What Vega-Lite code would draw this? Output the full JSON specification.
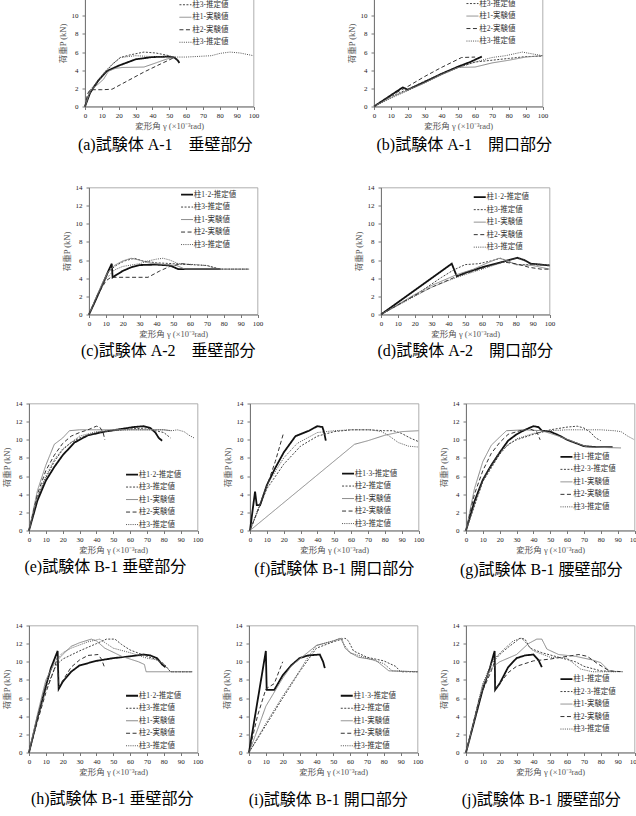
{
  "$schema": "https://vega.github.io/schema/vega-lite/v6.json",
  "padding": {"left": 0, "top": -25.5, "right": -4, "bottom": 0},
  "background": "white",
  "spacing": 0,
  "resolve": {
    "scale": {"color": "independent", "strokeDash": "independent"},
    "legend": {"color": "independent", "strokeDash": "independent"}
  },
  "config": {
    "view": {"stroke": "#9a9a9a", "strokeWidth": 0.8},
    "axis": {
      "grid": false,
      "labelFont": "Liberation Serif",
      "labelFontSize": 7,
      "labelColor": "#222",
      "labelFlush": false,
      "labelOverlap": false,
      "titleFont": "Liberation Serif, Noto Sans CJK JP",
      "titleFontSize": 8.5,
      "titleFontWeight": "normal",
      "titleColor": "#555",
      "tickColor": "#777",
      "domainColor": "#777",
      "tickSize": 3
    },
    "axisX": {"tickCount": 10, "labelPadding": 2, "titlePadding": 3},
    "axisY": {"tickCount": 7, "labelPadding": 4, "titlePadding": 4},
    "legend": {
      "orient": "none",
      "symbolType": "stroke",
      "symbolSize": 144,
      "symbolStrokeWidth": 1,
      "labelFont": "Liberation Serif, Noto Sans CJK JP",
      "labelFontSize": 7.5,
      "labelColor": "#333",
      "rowPadding": 3.5,
      "padding": 0,
      "labelOffset": 3
    },
    "title": {
      "orient": "bottom",
      "anchor": "middle",
      "font": "Liberation Serif, Noto Sans CJK JP",
      "fontSize": 16,
      "fontWeight": "normal",
      "color": "#000"
    }
  },
  "datasets": {
    "a": [
      {"s":1,"x":0,"y":0},{"s":1,"x":3,"y":1.5},{"s":1,"x":8,"y":2.9},{"s":1,"x":13,"y":3.9},{"s":1,"x":20,"y":4.5},{"s":1,"x":30,"y":5.2},{"s":1,"x":40,"y":5.45},{"s":1,"x":50,"y":5.5},{"s":1,"x":53,"y":5.4},{"s":1,"x":55,"y":5.1},{"s":1,"x":56,"y":4.8},
      {"s":2,"x":0,"y":0},{"s":2,"x":2,"y":1.2},{"s":2,"x":6,"y":2.3},{"s":2,"x":11,"y":3.5},{"s":2,"x":16,"y":4.6},{"s":2,"x":21,"y":5.4},{"s":2,"x":27,"y":5.7},{"s":2,"x":35,"y":6.0},{"s":2,"x":42,"y":5.9},{"s":2,"x":50,"y":5.6},{"s":2,"x":54,"y":5.3},{"s":2,"x":56,"y":5.0},
      {"s":3,"x":0,"y":0},{"s":3,"x":3,"y":1.7},{"s":3,"x":8,"y":2.5},{"s":3,"x":11,"y":3.0},{"s":3,"x":14,"y":3.9},{"s":3,"x":18,"y":4.2},{"s":3,"x":22,"y":4.3},{"s":3,"x":35,"y":4.35},{"s":3,"x":42,"y":4.8},{"s":3,"x":48,"y":5.2},{"s":3,"x":52,"y":5.4},
      {"s":4,"x":0,"y":0},{"s":4,"x":1.5,"y":1.4},{"s":4,"x":3,"y":1.85},{"s":4,"x":10,"y":1.85},{"s":4,"x":16,"y":1.9},{"s":4,"x":25,"y":2.8},{"s":4,"x":35,"y":3.8},{"s":4,"x":45,"y":4.7},{"s":4,"x":53,"y":5.4},
      {"s":5,"x":0,"y":0},{"s":5,"x":3,"y":1.8},{"s":5,"x":7,"y":2.7},{"s":5,"x":12,"y":3.9},{"s":5,"x":17,"y":4.8},{"s":5,"x":21,"y":5.4},{"s":5,"x":30,"y":5.6},{"s":5,"x":40,"y":5.5},{"s":5,"x":50,"y":5.45},{"s":5,"x":60,"y":5.45},{"s":5,"x":70,"y":5.55},{"s":5,"x":75,"y":5.6},{"s":5,"x":80,"y":5.85},{"s":5,"x":86,"y":6.0},{"s":5,"x":92,"y":5.9},{"s":5,"x":100,"y":5.6}
    ],
    "b": [
      {"s":1,"x":0,"y":0},{"s":1,"x":17,"y":2.1},{"s":1,"x":20,"y":1.85},{"s":1,"x":30,"y":2.7},{"s":1,"x":40,"y":3.6},{"s":1,"x":50,"y":4.4},{"s":1,"x":57,"y":4.9},{"s":1,"x":64,"y":5.5},
      {"s":2,"x":0,"y":0},{"s":2,"x":10,"y":1.1},{"s":2,"x":20,"y":1.9},{"s":2,"x":30,"y":2.8},{"s":2,"x":40,"y":3.6},{"s":2,"x":50,"y":4.3},{"s":2,"x":60,"y":4.9},{"s":2,"x":70,"y":5.1},{"s":2,"x":80,"y":5.3},{"s":2,"x":90,"y":5.5},{"s":2,"x":100,"y":5.55},
      {"s":3,"x":0,"y":0},{"s":3,"x":10,"y":1.0},{"s":3,"x":20,"y":1.8},{"s":3,"x":30,"y":2.6},{"s":3,"x":40,"y":3.5},{"s":3,"x":50,"y":4.3},{"s":3,"x":60,"y":4.35},{"s":3,"x":70,"y":4.8},{"s":3,"x":80,"y":5.1},{"s":3,"x":90,"y":5.45},{"s":3,"x":100,"y":5.6},
      {"s":4,"x":0,"y":0},{"s":4,"x":10,"y":1.2},{"s":4,"x":20,"y":2.2},{"s":4,"x":30,"y":3.3},{"s":4,"x":40,"y":4.3},{"s":4,"x":52,"y":5.4},{"s":4,"x":60,"y":5.45},
      {"s":5,"x":0,"y":0},{"s":5,"x":10,"y":0.9},{"s":5,"x":20,"y":1.75},{"s":5,"x":30,"y":2.6},{"s":5,"x":40,"y":3.5},{"s":5,"x":50,"y":4.3},{"s":5,"x":60,"y":4.9},{"s":5,"x":70,"y":5.4},{"s":5,"x":78,"y":5.6},{"s":5,"x":88,"y":6.0},{"s":5,"x":94,"y":5.8},{"s":5,"x":100,"y":5.6}
    ],
    "c": [
      {"s":1,"x":0,"y":0},{"s":1,"x":4,"y":1.6},{"s":1,"x":8,"y":3.3},{"s":1,"x":11,"y":4.6},{"s":1,"x":13.5,"y":5.6},{"s":1,"x":14,"y":4.1},{"s":1,"x":20,"y":4.8},{"s":1,"x":25,"y":5.2},{"s":1,"x":30,"y":5.45},{"s":1,"x":40,"y":5.5},{"s":1,"x":48,"y":5.4},{"s":1,"x":53,"y":5.0},{"s":1,"x":60,"y":5.0},{"s":1,"x":78,"y":5.0},
      {"s":2,"x":0,"y":0},{"s":2,"x":5,"y":2.0},{"s":2,"x":9,"y":3.7},{"s":2,"x":12,"y":4.8},{"s":2,"x":16,"y":5.4},{"s":2,"x":21,"y":5.9},{"s":2,"x":27,"y":6.2},{"s":2,"x":32,"y":5.9},{"s":2,"x":40,"y":5.7},{"s":2,"x":50,"y":5.6},{"s":2,"x":60,"y":5.5},{"s":2,"x":70,"y":5.4},{"s":2,"x":78,"y":5.0},{"s":2,"x":95,"y":5.0},
      {"s":3,"x":0,"y":0},{"s":3,"x":4,"y":1.8},{"s":3,"x":8,"y":3.5},{"s":3,"x":11,"y":4.6},{"s":3,"x":15,"y":5.4},{"s":3,"x":20,"y":5.9},{"s":3,"x":25,"y":6.2},{"s":3,"x":30,"y":6.0},{"s":3,"x":35,"y":5.7},{"s":3,"x":45,"y":5.5},{"s":3,"x":52,"y":5.4},{"s":3,"x":57,"y":5.0},{"s":3,"x":70,"y":5.0},{"s":3,"x":95,"y":5.0},
      {"s":4,"x":0,"y":0},{"s":4,"x":5,"y":2.1},{"s":4,"x":10,"y":3.7},{"s":4,"x":13,"y":4.1},{"s":4,"x":22,"y":4.1},{"s":4,"x":35,"y":4.1},{"s":4,"x":42,"y":4.8},{"s":4,"x":48,"y":5.3},{"s":4,"x":55,"y":5.6},{"s":4,"x":60,"y":5.5},
      {"s":5,"x":0,"y":0},{"s":5,"x":5,"y":2.2},{"s":5,"x":10,"y":3.9},{"s":5,"x":15,"y":4.9},{"s":5,"x":20,"y":5.3},{"s":5,"x":30,"y":5.6},{"s":5,"x":35,"y":5.9},{"s":5,"x":40,"y":6.1},{"s":5,"x":44,"y":6.2},{"s":5,"x":48,"y":6.0},{"s":5,"x":53,"y":5.6},{"s":5,"x":63,"y":5.5},{"s":5,"x":70,"y":5.4},{"s":5,"x":73,"y":5.2},{"s":5,"x":77,"y":5.0},{"s":5,"x":95,"y":5.0}
    ],
    "d": [
      {"s":1,"x":0,"y":0},{"s":1,"x":42,"y":5.6},{"s":1,"x":45,"y":4.2},{"s":1,"x":50,"y":4.6},{"s":1,"x":60,"y":5.2},{"s":1,"x":70,"y":5.7},{"s":1,"x":76,"y":6.0},{"s":1,"x":81,"y":6.25},{"s":1,"x":85,"y":6.0},{"s":1,"x":89,"y":5.6},{"s":1,"x":95,"y":5.5},{"s":1,"x":100,"y":5.4},
      {"s":2,"x":0,"y":0},{"s":2,"x":20,"y":2.1},{"s":2,"x":36,"y":4.1},{"s":2,"x":43,"y":4.9},{"s":2,"x":50,"y":5.5},{"s":2,"x":58,"y":5.6},{"s":2,"x":65,"y":5.9},{"s":2,"x":71,"y":6.2},{"s":2,"x":75,"y":5.9},{"s":2,"x":80,"y":5.5},{"s":2,"x":90,"y":5.5},{"s":2,"x":100,"y":5.4},
      {"s":3,"x":0,"y":0},{"s":3,"x":20,"y":2.2},{"s":3,"x":30,"y":3.2},{"s":3,"x":45,"y":4.4},{"s":3,"x":55,"y":5.0},{"s":3,"x":62,"y":5.6},{"s":3,"x":70,"y":6.2},{"s":3,"x":74,"y":6.0},{"s":3,"x":80,"y":5.5},{"s":3,"x":90,"y":5.4},{"s":3,"x":100,"y":5.0},
      {"s":4,"x":0,"y":0},{"s":4,"x":20,"y":2.1},{"s":4,"x":30,"y":3.0},{"s":4,"x":45,"y":4.2},{"s":4,"x":55,"y":4.8},{"s":4,"x":65,"y":5.4},{"s":4,"x":72,"y":5.8},{"s":4,"x":80,"y":5.6},{"s":4,"x":88,"y":5.2},{"s":4,"x":95,"y":5.0},{"s":4,"x":100,"y":5.0},
      {"s":5,"x":0,"y":0},{"s":5,"x":20,"y":2.0},{"s":5,"x":30,"y":3.0},{"s":5,"x":45,"y":4.1},{"s":5,"x":55,"y":4.7},{"s":5,"x":65,"y":5.3},{"s":5,"x":73,"y":5.8},{"s":5,"x":80,"y":6.2},{"s":5,"x":84,"y":6.1},{"s":5,"x":88,"y":5.6},{"s":5,"x":93,"y":5.5},{"s":5,"x":100,"y":5.5}
    ],
    "e": [
      {"s":1,"x":0,"y":0},{"s":1,"x":5,"y":3.3},{"s":1,"x":10,"y":5.5},{"s":1,"x":15,"y":7.0},{"s":1,"x":20,"y":8.3},{"s":1,"x":27,"y":9.7},{"s":1,"x":35,"y":10.5},{"s":1,"x":45,"y":10.9},{"s":1,"x":55,"y":11.2},{"s":1,"x":62,"y":11.4},{"s":1,"x":68,"y":11.5},{"s":1,"x":72,"y":11.3},{"s":1,"x":75,"y":10.8},{"s":1,"x":77,"y":10.2},{"s":1,"x":79,"y":9.9},
      {"s":2,"x":0,"y":0},{"s":2,"x":5,"y":3.6},{"s":2,"x":10,"y":5.8},{"s":2,"x":15,"y":7.6},{"s":2,"x":20,"y":8.9},{"s":2,"x":25,"y":9.7},{"s":2,"x":30,"y":10.2},{"s":2,"x":40,"y":10.8},{"s":2,"x":50,"y":11.0},{"s":2,"x":60,"y":11.2},{"s":2,"x":70,"y":11.3},{"s":2,"x":75,"y":11.0},{"s":2,"x":80,"y":10.8},{"s":2,"x":82,"y":10.5},{"s":2,"x":84,"y":10.2},
      {"s":3,"x":0,"y":0},{"s":3,"x":5,"y":4.4},{"s":3,"x":10,"y":7.2},{"s":3,"x":15,"y":9.5},{"s":3,"x":20,"y":10.2},{"s":3,"x":24,"y":11.0},{"s":3,"x":30,"y":11.1},{"s":3,"x":40,"y":11.1},{"s":3,"x":50,"y":11.1},{"s":3,"x":60,"y":11.1},{"s":3,"x":70,"y":11.1},{"s":3,"x":80,"y":11.1},{"s":3,"x":84,"y":11.0},
      {"s":4,"x":0,"y":0},{"s":4,"x":5,"y":4.0},{"s":4,"x":10,"y":6.6},{"s":4,"x":15,"y":8.3},{"s":4,"x":20,"y":9.6},{"s":4,"x":25,"y":10.4},{"s":4,"x":30,"y":10.8},{"s":4,"x":35,"y":11.1},{"s":4,"x":40,"y":11.5},{"s":4,"x":42,"y":11.4},{"s":4,"x":44,"y":10.8},{"s":4,"x":45,"y":10.0},
      {"s":5,"x":0,"y":0},{"s":5,"x":5,"y":3.7},{"s":5,"x":10,"y":6.0},{"s":5,"x":15,"y":7.8},{"s":5,"x":20,"y":9.0},{"s":5,"x":30,"y":10.4},{"s":5,"x":40,"y":10.9},{"s":5,"x":50,"y":11.0},{"s":5,"x":60,"y":11.1},{"s":5,"x":70,"y":11.1},{"s":5,"x":80,"y":11.1},{"s":5,"x":85,"y":11.0},{"s":5,"x":88,"y":11.1},{"s":5,"x":92,"y":10.9},{"s":5,"x":95,"y":10.5},{"s":5,"x":98,"y":10.2}
    ],
    "f": [
      {"s":1,"x":0,"y":0},{"s":1,"x":3,"y":4.3},{"s":1,"x":4,"y":2.8},{"s":1,"x":6,"y":2.8},{"s":1,"x":10,"y":5.0},{"s":1,"x":15,"y":6.9},{"s":1,"x":20,"y":8.6},{"s":1,"x":27,"y":10.4},{"s":1,"x":35,"y":11.0},{"s":1,"x":40,"y":11.5},{"s":1,"x":43,"y":11.4},{"s":1,"x":44,"y":10.8},{"s":1,"x":45,"y":9.9},
      {"s":2,"x":0,"y":0},{"s":2,"x":10,"y":4.6},{"s":2,"x":20,"y":7.3},{"s":2,"x":30,"y":9.3},{"s":2,"x":40,"y":10.4},{"s":2,"x":50,"y":10.9},{"s":2,"x":60,"y":11.1},{"s":2,"x":70,"y":11.1},{"s":2,"x":80,"y":11.0},{"s":2,"x":85,"y":11.0},{"s":2,"x":90,"y":10.7},{"s":2,"x":95,"y":10.2},{"s":2,"x":100,"y":9.8},
      {"s":3,"x":0,"y":0},{"s":3,"x":62,"y":9.5},{"s":3,"x":70,"y":9.9},{"s":3,"x":80,"y":10.5},{"s":3,"x":90,"y":10.9},{"s":3,"x":100,"y":11.0},
      {"s":4,"x":0,"y":0},{"s":4,"x":5,"y":2.4},{"s":4,"x":10,"y":4.9},{"s":4,"x":15,"y":7.6},{"s":4,"x":20,"y":10.8},
      {"s":5,"x":0,"y":0},{"s":5,"x":10,"y":5.0},{"s":5,"x":20,"y":8.0},{"s":5,"x":28,"y":9.6},{"s":5,"x":40,"y":10.8},{"s":5,"x":50,"y":11.0},{"s":5,"x":60,"y":11.1},{"s":5,"x":72,"y":11.1},{"s":5,"x":78,"y":10.9},{"s":5,"x":82,"y":10.5},{"s":5,"x":88,"y":9.7},{"s":5,"x":94,"y":9.3},{"s":5,"x":100,"y":9.2}
    ],
    "g": [
      {"s":1,"x":0,"y":0},{"s":1,"x":5,"y":3.2},{"s":1,"x":10,"y":5.6},{"s":1,"x":15,"y":7.2},{"s":1,"x":20,"y":8.6},{"s":1,"x":25,"y":9.9},{"s":1,"x":30,"y":10.6},{"s":1,"x":35,"y":11.1},{"s":1,"x":40,"y":11.5},{"s":1,"x":43,"y":11.4},{"s":1,"x":45,"y":11.0},{"s":1,"x":50,"y":10.9},{"s":1,"x":55,"y":10.5},{"s":1,"x":60,"y":10.0},{"s":1,"x":70,"y":9.3},{"s":1,"x":77,"y":9.2},{"s":1,"x":87,"y":9.2},
      {"s":2,"x":0,"y":0},{"s":2,"x":10,"y":5.4},{"s":2,"x":20,"y":8.4},{"s":2,"x":25,"y":9.5},{"s":2,"x":30,"y":10.0},{"s":2,"x":40,"y":10.6},{"s":2,"x":50,"y":11.1},{"s":2,"x":60,"y":11.4},{"s":2,"x":66,"y":11.5},{"s":2,"x":70,"y":11.3},{"s":2,"x":74,"y":10.8},{"s":2,"x":77,"y":10.2},{"s":2,"x":80,"y":9.9},
      {"s":3,"x":0,"y":0},{"s":3,"x":5,"y":4.6},{"s":3,"x":10,"y":7.6},{"s":3,"x":15,"y":9.4},{"s":3,"x":20,"y":10.3},{"s":3,"x":24,"y":11.0},{"s":3,"x":35,"y":11.1},{"s":3,"x":45,"y":11.0},{"s":3,"x":55,"y":10.4},{"s":3,"x":65,"y":9.7},{"s":3,"x":72,"y":9.2},{"s":3,"x":92,"y":9.1},
      {"s":4,"x":0,"y":0},{"s":4,"x":5,"y":4.0},{"s":4,"x":10,"y":6.6},{"s":4,"x":15,"y":8.5},{"s":4,"x":20,"y":9.7},{"s":4,"x":25,"y":10.6},{"s":4,"x":32,"y":11.0},{"s":4,"x":38,"y":11.2},{"s":4,"x":42,"y":10.9},{"s":4,"x":44,"y":10.0},
      {"s":5,"x":0,"y":0},{"s":5,"x":10,"y":5.6},{"s":5,"x":20,"y":8.7},{"s":5,"x":30,"y":10.1},{"s":5,"x":40,"y":10.7},{"s":5,"x":50,"y":11.0},{"s":5,"x":60,"y":11.1},{"s":5,"x":70,"y":11.1},{"s":5,"x":80,"y":11.1},{"s":5,"x":88,"y":11.0},{"s":5,"x":92,"y":10.9},{"s":5,"x":96,"y":10.4},{"s":5,"x":100,"y":10.0}
    ],
    "h": [
      {"s":1,"x":0,"y":0},{"s":1,"x":5,"y":3.8},{"s":1,"x":10,"y":7.3},{"s":1,"x":13,"y":9.3},{"s":1,"x":17,"y":11.2},{"s":1,"x":17.6,"y":7.0},{"s":1,"x":20,"y":7.8},{"s":1,"x":25,"y":8.9},{"s":1,"x":30,"y":9.6},{"s":1,"x":40,"y":10.1},{"s":1,"x":50,"y":10.4},{"s":1,"x":60,"y":10.6},{"s":1,"x":68,"y":10.8},{"s":1,"x":72,"y":10.7},{"s":1,"x":76,"y":10.4},{"s":1,"x":79,"y":9.7},{"s":1,"x":81,"y":9.4},
      {"s":2,"x":0,"y":0},{"s":2,"x":5,"y":3.6},{"s":2,"x":10,"y":6.9},{"s":2,"x":16,"y":9.6},{"s":2,"x":20,"y":10.3},{"s":2,"x":30,"y":11.2},{"s":2,"x":40,"y":12.0},{"s":2,"x":46,"y":12.5},{"s":2,"x":51,"y":12.5},{"s":2,"x":55,"y":11.9},{"s":2,"x":60,"y":11.3},{"s":2,"x":70,"y":10.6},{"s":2,"x":75,"y":10.3},{"s":2,"x":80,"y":9.8},{"s":2,"x":84,"y":8.9},{"s":2,"x":97,"y":8.9},
      {"s":3,"x":0,"y":0},{"s":3,"x":5,"y":4.2},{"s":3,"x":10,"y":8.0},{"s":3,"x":15,"y":9.8},{"s":3,"x":20,"y":10.8},{"s":3,"x":25,"y":11.7},{"s":3,"x":30,"y":12.1},{"s":3,"x":37,"y":12.5},{"s":3,"x":40,"y":12.3},{"s":3,"x":45,"y":11.5},{"s":3,"x":55,"y":10.6},{"s":3,"x":65,"y":10.0},{"s":3,"x":68.5,"y":9.7},{"s":3,"x":69.5,"y":8.9},{"s":3,"x":97,"y":8.9},
      {"s":4,"x":0,"y":0},{"s":4,"x":5,"y":3.4},{"s":4,"x":10,"y":6.6},{"s":4,"x":15,"y":9.2},{"s":4,"x":17,"y":10.6},{"s":4,"x":17.6,"y":7.2},{"s":4,"x":25,"y":9.4},{"s":4,"x":30,"y":10.2},{"s":4,"x":35,"y":10.7},{"s":4,"x":41,"y":10.8},{"s":4,"x":43,"y":10.3},{"s":4,"x":45,"y":9.3},
      {"s":5,"x":0,"y":0},{"s":5,"x":5,"y":3.9},{"s":5,"x":10,"y":7.6},{"s":5,"x":15,"y":10.0},{"s":5,"x":20,"y":11.0},{"s":5,"x":25,"y":11.5},{"s":5,"x":35,"y":12.2},{"s":5,"x":42,"y":12.5},{"s":5,"x":46,"y":12.0},{"s":5,"x":50,"y":11.5},{"s":5,"x":60,"y":11.0},{"s":5,"x":70,"y":10.4},{"s":5,"x":76,"y":10.2},{"s":5,"x":80,"y":9.7},{"s":5,"x":84,"y":8.9},{"s":5,"x":97,"y":8.9}
    ],
    "i": [
      {"s":1,"x":0,"y":0},{"s":1,"x":10,"y":11.2},{"s":1,"x":10.5,"y":6.9},{"s":1,"x":15,"y":6.9},{"s":1,"x":20,"y":8.5},{"s":1,"x":25,"y":9.6},{"s":1,"x":30,"y":10.4},{"s":1,"x":35,"y":10.7},{"s":1,"x":42,"y":10.8},{"s":1,"x":44,"y":10.0},{"s":1,"x":45,"y":9.3},
      {"s":2,"x":0,"y":0},{"s":2,"x":10,"y":3.0},{"s":2,"x":20,"y":6.0},{"s":2,"x":30,"y":8.9},{"s":2,"x":40,"y":11.5},{"s":2,"x":50,"y":12.2},{"s":2,"x":57,"y":12.6},{"s":2,"x":59,"y":12.3},{"s":2,"x":62,"y":11.2},{"s":2,"x":70,"y":10.5},{"s":2,"x":80,"y":10.1},{"s":2,"x":87,"y":9.5},{"s":2,"x":90,"y":8.9},{"s":2,"x":100,"y":8.9},
      {"s":3,"x":0,"y":0},{"s":3,"x":5,"y":2.5},{"s":3,"x":10,"y":5.1},{"s":3,"x":20,"y":8.2},{"s":3,"x":25,"y":9.5},{"s":3,"x":30,"y":10.3},{"s":3,"x":40,"y":11.8},{"s":3,"x":50,"y":12.3},{"s":3,"x":55,"y":12.6},{"s":3,"x":57,"y":11.5},{"s":3,"x":60,"y":11.0},{"s":3,"x":65,"y":10.5},{"s":3,"x":75,"y":10.2},{"s":3,"x":83,"y":9.0},{"s":3,"x":100,"y":8.9},
      {"s":4,"x":0,"y":0},{"s":4,"x":5,"y":4.0},{"s":4,"x":10,"y":7.0},{"s":4,"x":15,"y":7.6},{"s":4,"x":20,"y":10.0},
      {"s":5,"x":0,"y":0},{"s":5,"x":10,"y":3.2},{"s":5,"x":20,"y":6.2},{"s":5,"x":30,"y":9.0},{"s":5,"x":35,"y":10.5},{"s":5,"x":40,"y":11.8},{"s":5,"x":50,"y":12.3},{"s":5,"x":54,"y":12.6},{"s":5,"x":56,"y":12.0},{"s":5,"x":60,"y":11.0},{"s":5,"x":70,"y":10.4},{"s":5,"x":80,"y":9.8},{"s":5,"x":85,"y":9.0},{"s":5,"x":100,"y":8.9}
    ],
    "j": [
      {"s":1,"x":0,"y":0},{"s":1,"x":5,"y":3.5},{"s":1,"x":10,"y":7.0},{"s":1,"x":14,"y":9.2},{"s":1,"x":17,"y":11.2},{"s":1,"x":17.3,"y":6.9},{"s":1,"x":20,"y":7.6},{"s":1,"x":25,"y":9.4},{"s":1,"x":30,"y":10.4},{"s":1,"x":35,"y":10.7},{"s":1,"x":40,"y":10.8},{"s":1,"x":43,"y":10.2},{"s":1,"x":45,"y":9.4},
      {"s":2,"x":0,"y":0},{"s":2,"x":10,"y":7.0},{"s":2,"x":15,"y":9.8},{"s":2,"x":20,"y":10.8},{"s":2,"x":25,"y":11.6},{"s":2,"x":30,"y":12.3},{"s":2,"x":32,"y":12.6},{"s":2,"x":35,"y":12.5},{"s":2,"x":38,"y":11.5},{"s":2,"x":45,"y":11.0},{"s":2,"x":55,"y":10.5},{"s":2,"x":65,"y":10.0},{"s":2,"x":70,"y":9.5},{"s":2,"x":80,"y":9.0},{"s":2,"x":93,"y":8.9},
      {"s":3,"x":0,"y":0},{"s":3,"x":10,"y":7.5},{"s":3,"x":15,"y":9.3},{"s":3,"x":20,"y":10.0},{"s":3,"x":30,"y":10.8},{"s":3,"x":37,"y":12.0},{"s":3,"x":42,"y":12.5},{"s":3,"x":45,"y":12.5},{"s":3,"x":48,"y":11.4},{"s":3,"x":55,"y":10.8},{"s":3,"x":65,"y":10.6},{"s":3,"x":75,"y":10.2},{"s":3,"x":80,"y":9.9},{"s":3,"x":85,"y":9.0},{"s":3,"x":88,"y":8.9},
      {"s":4,"x":0,"y":0},{"s":4,"x":8,"y":6.0},{"s":4,"x":15,"y":9.0},{"s":4,"x":17,"y":10.0},{"s":4,"x":17.5,"y":7.0},{"s":4,"x":25,"y":8.8},{"s":4,"x":30,"y":9.5},{"s":4,"x":40,"y":10.1},{"s":4,"x":50,"y":10.3},{"s":4,"x":60,"y":10.6},{"s":4,"x":67,"y":10.8},{"s":4,"x":72,"y":10.6},{"s":4,"x":78,"y":9.8},{"s":4,"x":85,"y":9.0},{"s":4,"x":93,"y":8.9},
      {"s":5,"x":0,"y":0},{"s":5,"x":10,"y":7.6},{"s":5,"x":16,"y":10.2},{"s":5,"x":22,"y":11.3},{"s":5,"x":28,"y":12.3},{"s":5,"x":33,"y":12.6},{"s":5,"x":36,"y":12.0},{"s":5,"x":40,"y":11.2},{"s":5,"x":50,"y":10.5},{"s":5,"x":60,"y":10.4},{"s":5,"x":68,"y":9.2},{"s":5,"x":75,"y":8.9},{"s":5,"x":90,"y":8.9}
    ],
    "blank": []
  },
  "vconcat": [
    {
      "spacing": 0,
      "bounds": "flush",
      "resolve": {"scale": {"color": "independent", "strokeDash": "independent"}, "legend": {"color": "independent", "strokeDash": "independent"}},
      "hconcat": [
        {"width": 84.3, "height": 127, "data": {"name": "blank"}, "mark": "rule", "encoding": {}, "view": {"stroke": null}},
        {
          "width": 168.5, "height": 127, "data": {"name": "a"},
          "title": {"text": "(a)試験体 A-1\u3000垂壁部分", "dx": -4, "offset": 7.3},
          "mark": "line",
          "encoding": {
            "x": {"field": "x", "type": "quantitative", "scale": {"domain": [0, 100], "nice": false}, "title": "変形角 γ (×10⁻³rad)"},
            "y": {"field": "y", "type": "quantitative", "scale": {"domain": [0, 14], "nice": false}, "title": "荷重P (kN)"},
            "color": {"field": "s", "type": "nominal", "scale": {"domain": [1, 2, 3, 4, 5], "range": ["#111", "#444", "#888", "#333", "#555"]},
              "legend": {"title": null, "legendX": 96.7, "legendY": 9, "labelExpr": "['柱1·2-推定値','柱3-推定値','柱1-実験値','柱2-実験値','柱3-推定値'][datum.value-1]", "encode": {"symbols": {"update": {"strokeWidth": {"signal": "datum.value === 1 ? 1.8 : 1"}}}}}},
            "strokeDash": {"field": "s", "type": "nominal", "scale": {"domain": [1, 2, 3, 4, 5], "range": [[1, 0], [2, 1.5], [1, 0], [4, 2.5], [1, 1.2]]}},
            "strokeWidth": {"condition": {"test": "datum.s === 1", "value": 1.8}, "value": 1}
          }
        },
        {"width": 120, "height": 127, "data": {"name": "blank"}, "mark": "rule", "encoding": {}, "view": {"stroke": null}},
        {
          "width": 168.5, "height": 127, "data": {"name": "b"},
          "title": {"text": "(b)試験体 A-1\u3000開口部分", "dx": 6, "offset": 7.3},
          "mark": "line",
          "encoding": {
            "x": {"field": "x", "type": "quantitative", "scale": {"domain": [0, 100], "nice": false}, "title": "変形角 γ (×10⁻³rad)"},
            "y": {"field": "y", "type": "quantitative", "scale": {"domain": [0, 14], "nice": false}, "title": "荷重P (kN)"},
            "color": {"field": "s", "type": "nominal", "scale": {"domain": [1, 2, 3, 4, 5], "range": ["#111", "#444", "#888", "#333", "#555"]},
              "legend": {"title": null, "legendX": 94.7, "legendY": 7.8, "labelExpr": "['柱1·2-推定値','柱3-推定値','柱1-実験値','柱2-実験値','柱3-推定値'][datum.value-1]", "encode": {"symbols": {"update": {"strokeWidth": {"signal": "datum.value === 1 ? 1.8 : 1"}}}}}},
            "strokeDash": {"field": "s", "type": "nominal", "scale": {"domain": [1, 2, 3, 4, 5], "range": [[1, 0], [2, 1.5], [1, 0], [4, 2.5], [1, 1.2]]}},
            "strokeWidth": {"condition": {"test": "datum.s === 1", "value": 1.8}, "value": 1}
          }
        }
      ]
    },
    {"width": 1, "height": 27.1, "data": {"name": "blank"}, "mark": "rule", "encoding": {}, "view": {"stroke": null}},
    {
      "spacing": 0,
      "bounds": "flush",
      "resolve": {"scale": {"color": "independent", "strokeDash": "independent"}, "legend": {"color": "independent", "strokeDash": "independent"}},
      "hconcat": [
        {"width": 88.7, "height": 127, "data": {"name": "blank"}, "mark": "rule", "encoding": {}, "view": {"stroke": null}},
        {
          "width": 168.5, "height": 127, "data": {"name": "c"},
          "title": {"text": "(c)試験体 A-2\u3000垂壁部分", "dx": -5, "offset": 5.3},
          "mark": "line",
          "encoding": {
            "x": {"field": "x", "type": "quantitative", "scale": {"domain": [0, 100], "nice": false}, "title": "変形角 γ (×10⁻³rad)"},
            "y": {"field": "y", "type": "quantitative", "scale": {"domain": [0, 14], "nice": false}, "title": "荷重P (kN)"},
            "color": {"field": "s", "type": "nominal", "scale": {"domain": [1, 2, 3, 4, 5], "range": ["#111", "#444", "#888", "#333", "#555"]},
              "legend": {"title": null, "legendX": 94.3, "legendY": 3.3, "labelExpr": "['柱1·2-推定値','柱3-推定値','柱1-実験値','柱2-実験値','柱3-推定値'][datum.value-1]", "encode": {"symbols": {"update": {"strokeWidth": {"signal": "datum.value === 1 ? 1.8 : 1"}}}}}},
            "strokeDash": {"field": "s", "type": "nominal", "scale": {"domain": [1, 2, 3, 4, 5], "range": [[1, 0], [2, 1.5], [1, 0], [4, 2.5], [1, 1.2]]}},
            "strokeWidth": {"condition": {"test": "datum.s === 1", "value": 1.8}, "value": 1}
          }
        },
        {"width": 122.3, "height": 127, "data": {"name": "blank"}, "mark": "rule", "encoding": {}, "view": {"stroke": null}},
        {
          "width": 168.5, "height": 127, "data": {"name": "d"},
          "title": {"text": "(d)試験体 A-2\u3000開口部分", "dx": 0, "offset": 5.3},
          "mark": "line",
          "encoding": {
            "x": {"field": "x", "type": "quantitative", "scale": {"domain": [0, 100], "nice": false}, "title": "変形角 γ (×10⁻³rad)"},
            "y": {"field": "y", "type": "quantitative", "scale": {"domain": [0, 14], "nice": false}, "title": "荷重P (kN)"},
            "color": {"field": "s", "type": "nominal", "scale": {"domain": [1, 2, 3, 4, 5], "range": ["#111", "#444", "#888", "#333", "#555"]},
              "legend": {"title": null, "legendX": 95, "legendY": 5.9, "labelExpr": "['柱1·2-推定値','柱3-推定値','柱1-実験値','柱2-実験値','柱3-推定値'][datum.value-1]", "encode": {"symbols": {"update": {"strokeWidth": {"signal": "datum.value === 1 ? 1.8 : 1"}}}}}},
            "strokeDash": {"field": "s", "type": "nominal", "scale": {"domain": [1, 2, 3, 4, 5], "range": [[1, 0], [2, 1.5], [1, 0], [4, 2.5], [1, 1.2]]}},
            "strokeWidth": {"condition": {"test": "datum.s === 1", "value": 1.8}, "value": 1}
          }
        }
      ]
    },
    {"width": 1, "height": 37.7, "data": {"name": "blank"}, "mark": "rule", "encoding": {}, "view": {"stroke": null}},
    {
      "spacing": 0,
      "bounds": "flush",
      "resolve": {"scale": {"color": "independent", "strokeDash": "independent"}, "legend": {"color": "independent", "strokeDash": "independent"}},
      "hconcat": [
        {"width": 28.7, "height": 127, "data": {"name": "blank"}, "mark": "rule", "encoding": {}, "view": {"stroke": null}},
        {
          "width": 168.5, "height": 127, "data": {"name": "e"},
          "title": {"text": "(e)試験体 B-1 垂壁部分", "dx": -8, "offset": 5.1},
          "mark": "line",
          "encoding": {
            "x": {"field": "x", "type": "quantitative", "scale": {"domain": [0, 100], "nice": false}, "title": "変形角 γ (×10⁻³rad)"},
            "y": {"field": "y", "type": "quantitative", "scale": {"domain": [0, 14], "nice": false}, "title": "荷重P (kN)"},
            "color": {"field": "s", "type": "nominal", "scale": {"domain": [1, 2, 3, 4, 5], "range": ["#111", "#444", "#888", "#333", "#555"]},
              "legend": {"title": null, "legendX": 99.3, "legendY": 67.3, "labelExpr": "['柱1·2-推定値','柱3-推定値','柱1-実験値','柱2-実験値','柱3-推定値'][datum.value-1]", "encode": {"symbols": {"update": {"strokeWidth": {"signal": "datum.value === 1 ? 1.8 : 1"}}}}}},
            "strokeDash": {"field": "s", "type": "nominal", "scale": {"domain": [1, 2, 3, 4, 5], "range": [[1, 0], [2, 1.5], [1, 0], [4, 2.5], [1, 1.2]]}},
            "strokeWidth": {"condition": {"test": "datum.s === 1", "value": 1.8}, "value": 1}
          }
        },
        {"width": 51.5, "height": 127, "data": {"name": "blank"}, "mark": "rule", "encoding": {}, "view": {"stroke": null}},
        {
          "width": 168.5, "height": 127, "data": {"name": "f"},
          "title": {"text": "(f)試験体 B-1 開口部分", "dx": 0, "offset": 6.8},
          "mark": "line",
          "encoding": {
            "x": {"field": "x", "type": "quantitative", "scale": {"domain": [0, 100], "nice": false}, "title": "変形角 γ (×10⁻³rad)"},
            "y": {"field": "y", "type": "quantitative", "scale": {"domain": [0, 14], "nice": false}, "title": "荷重P (kN)"},
            "color": {"field": "s", "type": "nominal", "scale": {"domain": [1, 2, 3, 4, 5], "range": ["#111", "#444", "#888", "#333", "#555"]},
              "legend": {"title": null, "legendX": 94.3, "legendY": 66.3, "labelExpr": "['柱1·3-推定値','柱2-推定値','柱1-実験値','柱2-実験値','柱3-推定値'][datum.value-1]", "encode": {"symbols": {"update": {"strokeWidth": {"signal": "datum.value === 1 ? 1.8 : 1"}}}}}},
            "strokeDash": {"field": "s", "type": "nominal", "scale": {"domain": [1, 2, 3, 4, 5], "range": [[1, 0], [2, 1.5], [1, 0], [4, 2.5], [1, 1.2]]}},
            "strokeWidth": {"condition": {"test": "datum.s === 1", "value": 1.8}, "value": 1}
          }
        },
        {"width": 46.1, "height": 127, "data": {"name": "blank"}, "mark": "rule", "encoding": {}, "view": {"stroke": null}},
        {
          "width": 168.5, "height": 127, "data": {"name": "g"},
          "title": {"text": "(g)試験体 B-1 腰壁部分", "dx": -9, "offset": 8.3},
          "mark": "line",
          "encoding": {
            "x": {"field": "x", "type": "quantitative", "scale": {"domain": [0, 100], "nice": false}, "title": "変形角 γ (×10⁻³rad)"},
            "y": {"field": "y", "type": "quantitative", "scale": {"domain": [0, 14], "nice": false}, "title": "荷重P (kN)"},
            "color": {"field": "s", "type": "nominal", "scale": {"domain": [1, 2, 3, 4, 5], "range": ["#111", "#444", "#888", "#333", "#555"]},
              "legend": {"title": null, "legendX": 96.7, "legendY": 49.6, "labelExpr": "['柱1-推定値','柱2·3-推定値','柱1-実験値','柱2-実験値','柱3-推定値'][datum.value-1]", "encode": {"symbols": {"update": {"strokeWidth": {"signal": "datum.value === 1 ? 1.8 : 1"}}}}}},
            "strokeDash": {"field": "s", "type": "nominal", "scale": {"domain": [1, 2, 3, 4, 5], "range": [[1, 0], [2, 1.5], [1, 0], [4, 2.5], [1, 1.2]]}},
            "strokeWidth": {"condition": {"test": "datum.s === 1", "value": 1.8}, "value": 1}
          }
        }
      ]
    },
    {"width": 1, "height": 40.4, "data": {"name": "blank"}, "mark": "rule", "encoding": {}, "view": {"stroke": null}},
    {
      "spacing": 0,
      "bounds": "flush",
      "resolve": {"scale": {"color": "independent", "strokeDash": "independent"}, "legend": {"color": "independent", "strokeDash": "independent"}},
      "hconcat": [
        {"width": 28.7, "height": 127, "data": {"name": "blank"}, "mark": "rule", "encoding": {}, "view": {"stroke": null}},
        {
          "width": 168.5, "height": 127, "data": {"name": "h"},
          "title": {"text": "(h)試験体 B-1 垂壁部分", "dx": -1, "offset": 15},
          "mark": "line",
          "encoding": {
            "x": {"field": "x", "type": "quantitative", "scale": {"domain": [0, 100], "nice": false}, "title": "変形角 γ (×10⁻³rad)"},
            "y": {"field": "y", "type": "quantitative", "scale": {"domain": [0, 14], "nice": false}, "title": "荷重P (kN)"},
            "color": {"field": "s", "type": "nominal", "scale": {"domain": [1, 2, 3, 4, 5], "range": ["#111", "#444", "#888", "#333", "#555"]},
              "legend": {"title": null, "legendX": 99.3, "legendY": 66.5, "labelExpr": "['柱1·2-推定値','柱3-推定値','柱1-実験値','柱2-実験値','柱3-推定値'][datum.value-1]", "encode": {"symbols": {"update": {"strokeWidth": {"signal": "datum.value === 1 ? 1.8 : 1"}}}}}},
            "strokeDash": {"field": "s", "type": "nominal", "scale": {"domain": [1, 2, 3, 4, 5], "range": [[1, 0], [2, 1.5], [1, 0], [4, 2.5], [1, 1.2]]}},
            "strokeWidth": {"condition": {"test": "datum.s === 1", "value": 1.8}, "value": 1}
          }
        },
        {"width": 50.5, "height": 127, "data": {"name": "blank"}, "mark": "rule", "encoding": {}, "view": {"stroke": null}},
        {
          "width": 168.5, "height": 127, "data": {"name": "i"},
          "title": {"text": "(i)試験体 B-1 開口部分", "dx": -5, "offset": 16},
          "mark": "line",
          "encoding": {
            "x": {"field": "x", "type": "quantitative", "scale": {"domain": [0, 100], "nice": false}, "title": "変形角 γ (×10⁻³rad)"},
            "y": {"field": "y", "type": "quantitative", "scale": {"domain": [0, 14], "nice": false}, "title": "荷重P (kN)"},
            "color": {"field": "s", "type": "nominal", "scale": {"domain": [1, 2, 3, 4, 5], "range": ["#111", "#444", "#888", "#333", "#555"]},
              "legend": {"title": null, "legendX": 94, "legendY": 66.5, "labelExpr": "['柱1·3-推定値','柱2-推定値','柱1-実験値','柱2-実験値','柱3-推定値'][datum.value-1]", "encode": {"symbols": {"update": {"strokeWidth": {"signal": "datum.value === 1 ? 1.8 : 1"}}}}}},
            "strokeDash": {"field": "s", "type": "nominal", "scale": {"domain": [1, 2, 3, 4, 5], "range": [[1, 0], [2, 1.5], [1, 0], [4, 2.5], [1, 1.2]]}},
            "strokeWidth": {"condition": {"test": "datum.s === 1", "value": 1.8}, "value": 1}
          }
        },
        {"width": 47.1, "height": 127, "data": {"name": "blank"}, "mark": "rule", "encoding": {}, "view": {"stroke": null}},
        {
          "width": 168.5, "height": 127, "data": {"name": "j"},
          "title": {"text": "(j)試験体 B-1 腰壁部分", "dx": -9, "offset": 16},
          "mark": "line",
          "encoding": {
            "x": {"field": "x", "type": "quantitative", "scale": {"domain": [0, 100], "nice": false}, "title": "変形角 γ (×10⁻³rad)"},
            "y": {"field": "y", "type": "quantitative", "scale": {"domain": [0, 14], "nice": false}, "title": "荷重P (kN)"},
            "color": {"field": "s", "type": "nominal", "scale": {"domain": [1, 2, 3, 4, 5], "range": ["#111", "#444", "#888", "#333", "#555"]},
              "legend": {"title": null, "legendX": 96.7, "legendY": 49.8, "labelExpr": "['柱1-推定値','柱2·3-推定値','柱1-実験値','柱2-実験値','柱3-推定値'][datum.value-1]", "encode": {"symbols": {"update": {"strokeWidth": {"signal": "datum.value === 1 ? 1.8 : 1"}}}}}},
            "strokeDash": {"field": "s", "type": "nominal", "scale": {"domain": [1, 2, 3, 4, 5], "range": [[1, 0], [2, 1.5], [1, 0], [4, 2.5], [1, 1.2]]}},
            "strokeWidth": {"condition": {"test": "datum.s === 1", "value": 1.8}, "value": 1}
          }
        }
      ]
    }
  ]
}
